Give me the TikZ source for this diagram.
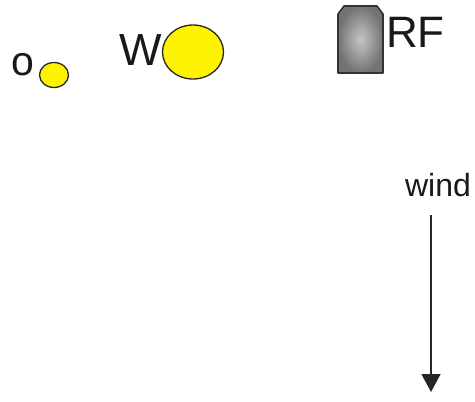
\documentclass[tikz,border=0pt]{standalone}
\usepackage{fontspec}
\setmainfont{Liberation Sans}
\usetikzlibrary{arrows.meta}
\begin{document}
\begin{tikzpicture}[x=1pt,y=-1pt,
  blob/.style={draw=black!85,line width=1.3pt,fill=yellow},
  lbl/.style={inner sep=0pt,text=black!90},
  rfbox/.style={inner color=gray!45,outer color=gray!90!black}]
\useasboundingbox (0,0) rectangle (475,402);
% small circle and label
\node[lbl,font=\fontsize{41}{41}\selectfont,anchor=base] (o) at (23,75) {o};
\draw[blob] (54,75) ellipse [x radius=14.5,y radius=12.5];
% W and big circle
\node[lbl,font=\fontsize{45}{45}\selectfont,anchor=base] (W) at (141,65) {W};
\draw[blob] (193,52) ellipse [x radius=30.5,y radius=27];
% RF box
\path[rfbox] (338,73) -- (338,14) -- (344,6) -- (377,6) -- (383,14) -- (383,73) -- cycle;
\draw[draw=black!80,line width=1.6pt,line join=round] (338,73) -- (338,14) -- (344,6) -- (377,6) -- (383,14) -- (383,73) -- cycle;
\node[lbl,font=\fontsize{44}{44}\selectfont,anchor=base west] (RF) at (386,47) {RF};
% wind
\node[lbl,font=\fontsize{32}{32}\selectfont,anchor=base] (wind) at (438,196) {wind};
\coordinate (windend) at (431,392);
\draw[line width=1.5pt,black!85,-{Triangle[length=18pt,width=19pt]}] (431,215) -- (windend);
\end{tikzpicture}
\end{document}
